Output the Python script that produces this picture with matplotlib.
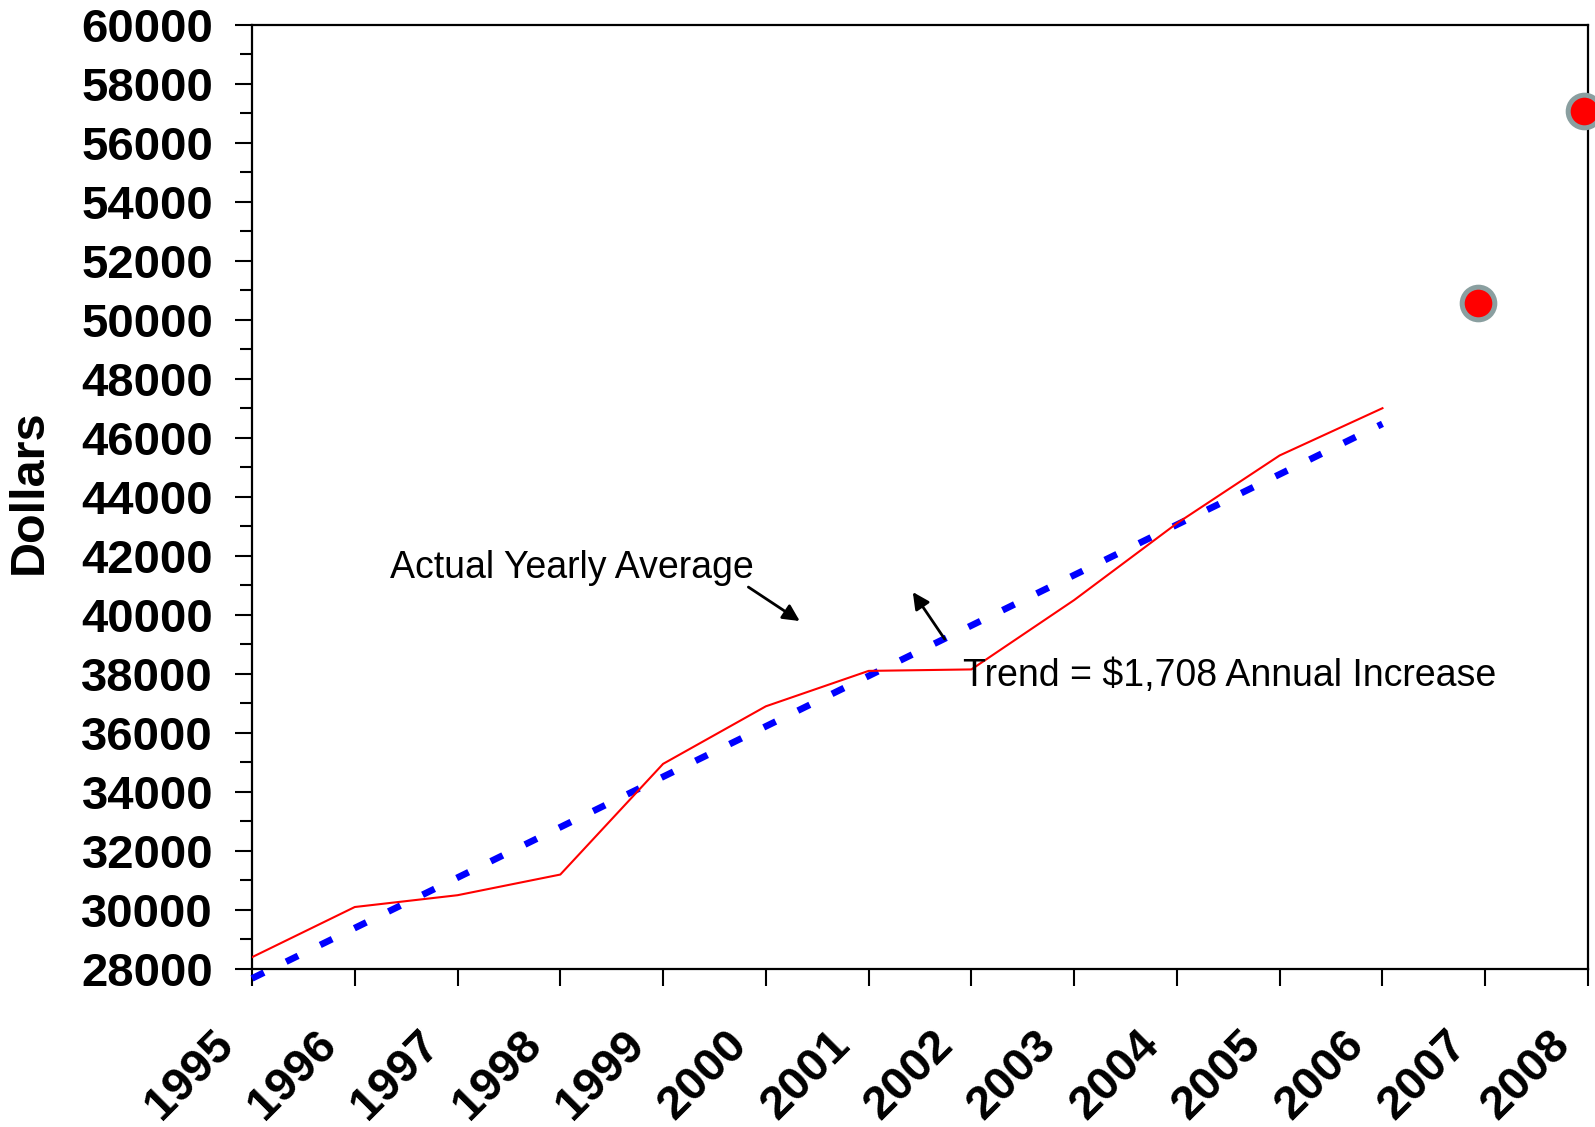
import numpy as np
import matplotlib
matplotlib.use("Agg")
import matplotlib.pyplot as plt
from matplotlib.transforms import ScaledTranslation

plt.rcParams['font.family'] = ['Liberation Sans', 'DejaVu Sans']

# actual yearly averages (dollars)
years = [1995, 1996, 1997, 1998, 1999, 2000, 2001, 2002, 2003, 2004, 2005, 2006]
actual = [28400, 30100, 30500, 31200, 34950, 36900, 38100, 38150, 40500, 43100, 45400, 47000]

# later points shown as markers
extra_years = [2006.93, 2007.96]
extra_vals = [50570, 57080]

# linear trend ($1,708 per year), endpoints
trend_years = [1995, 2006]
trend_vals = [27680, 46470]

year_ticks = list(range(1995, 2009))

fig = plt.figure(figsize=(15.95, 11.27), dpi=100)
ax = fig.add_axes([252 / 1595, 1 - 969 / 1127, 1336 / 1595, (969 - 24.5) / 1127])

ax.plot(trend_years, trend_vals, color='#0000ff', lw=4.8,
        dashes=(2, 3.7), dash_capstyle='butt', clip_on=False, zorder=2)
ax.plot(years, actual, color='#ff0000', lw=1.5, zorder=3)
ax.plot(extra_years, extra_vals, 'o', ms=23.5, mfc='#ff0000', mec='#8a9fa0',
        mew=3.6, clip_on=False, zorder=4)

ax.set_xlim(1995, 2008)
ax.set_ylim(28000, 60000)
ax.set_yticks(np.arange(28000, 60001, 2000))
ax.set_yticks(np.arange(28000, 60001, 1000), minor=True)
ax.set_xticks(year_ticks)

for s in ax.spines.values():
    s.set_linewidth(1.6)

ax.tick_params(axis='y', which='major', length=12, width=1.5, pad=16,
               labelsize=34)
ax.tick_params(axis='y', which='minor', length=9, width=1.5)
ax.tick_params(axis='x', which='major', length=12, width=1.5, pad=38,
               labelsize=34)
for lab in ax.get_yticklabels():
    lab.set_fontweight('bold')
shift = ScaledTranslation(-25 / 100, 0, fig.dpi_scale_trans)
for lab in ax.get_xticklabels():
    lab.set_fontweight('bold')
    lab.set_rotation(45)
    lab.set_ha('right')
    lab.set_va('center')
    lab.set_rotation_mode('anchor')
    lab.set_transform(lab.get_transform() + shift)

fig.text(29 / 1595, 1 - 491.5 / 1127, 'Dollars', rotation=90, fontsize=35,
         fontweight='bold', ha='center', va='center')

ax.text(1996.34, 41245, 'Actual Yearly Average', fontsize=27,
        ha='left', va='baseline')
ax.annotate('', xy=(2000.33, 39789), xytext=(1999.83, 40940),
            arrowprops=dict(arrowstyle='-|>', lw=2, color='black',
                            mutation_scale=25, shrinkA=0, shrinkB=0))

ax.text(2001.92, 37587, 'Trend = $1,708 Annual Increase', fontsize=27,
        ha='left', va='baseline', zorder=5)
ax.annotate('', xy=(2001.43, 40771), xytext=(2001.74, 39179),
            arrowprops=dict(arrowstyle='-|>', lw=2, color='black',
                            mutation_scale=25, shrinkA=0, shrinkB=0))

fig.savefig('out.png', dpi=100)
